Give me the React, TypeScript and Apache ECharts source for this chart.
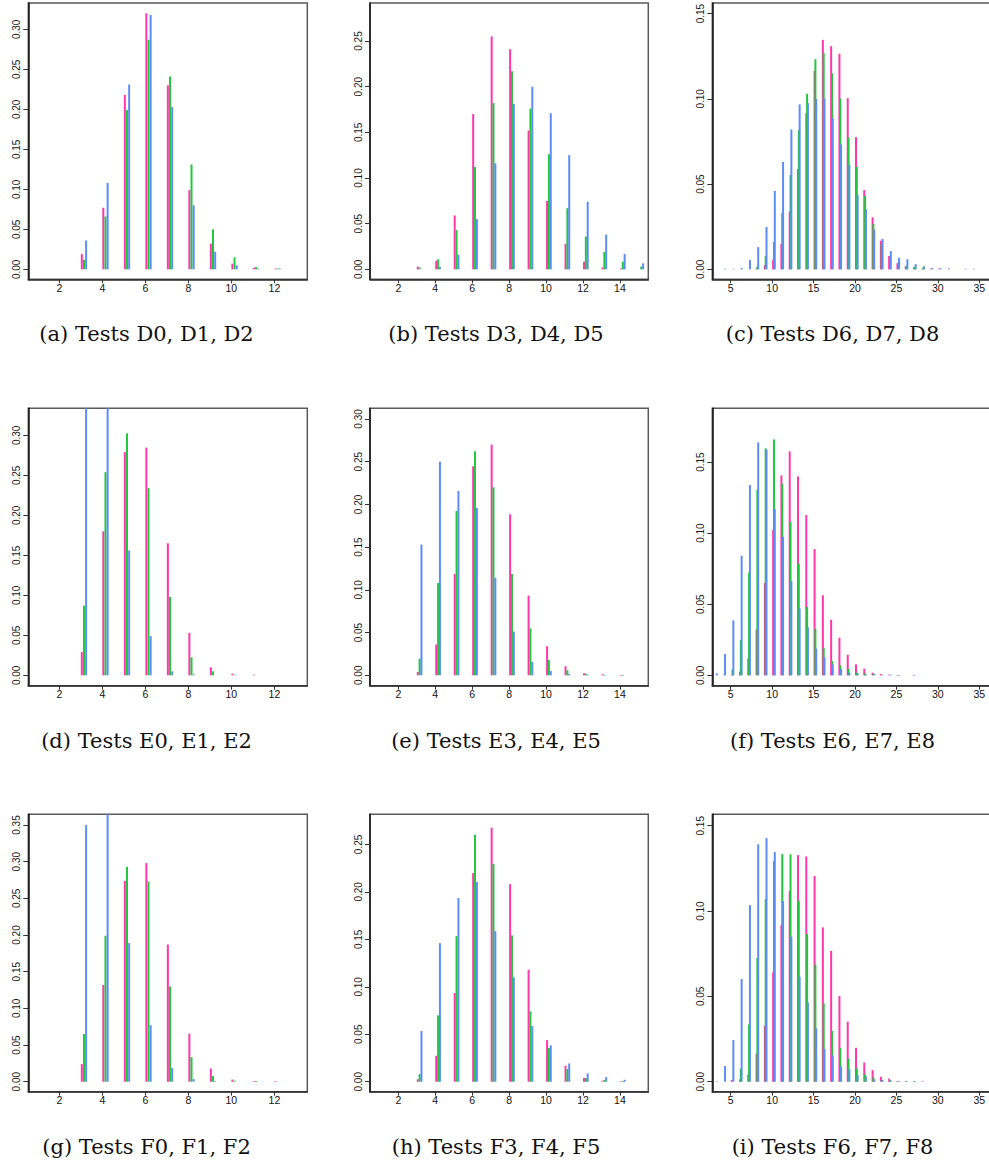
import React, { useEffect, useRef } from "react";
import * as echarts from "echarts";

// ---- Tests D0, D1, D2 ----
const xD0 = [3, 4, 5, 6, 7, 8, 9, 10, 11, 12];
const testD0 = [0.019, 0.077, 0.218, 0.32, 0.23, 0.099, 0.032, 0.007, 0.002, 0.001];
const testD1 = [0.012, 0.066, 0.199, 0.287, 0.241, 0.131, 0.05, 0.015, 0.003, 0.001];
const testD2 = [0.036, 0.108, 0.231, 0.318, 0.203, 0.08, 0.022, 0.005, 0.001, 0.001];

// ---- Tests D3, D4, D5 ----
const xD3 = [3, 4, 5, 6, 7, 8, 9, 10, 11, 12, 13, 14, 15];
const testD3 = [0.003, 0.0095, 0.059, 0.17, 0.255, 0.241, 0.152, 0.075, 0.028, 0.0084, 0.002, 0.001, 0];
const testD4 = [0.002, 0.011, 0.043, 0.112, 0.182, 0.217, 0.176, 0.126, 0.067, 0.036, 0.019, 0.0084, 0.003];
const testD5 = [0, 0.0026, 0.016, 0.055, 0.116, 0.181, 0.2, 0.171, 0.125, 0.074, 0.038, 0.017, 0.0066];

// ---- Tests D6, D7, D8 ----
const xD6 = [4, 5, 6, 7, 8, 9, 10, 11, 12, 13, 14, 15, 16, 17, 18, 19, 20, 21, 22, 23, 24, 25, 26, 27, 28, 29, 30, 31, 32, 33, 34];
const testD6 = [0, 0, 0, 0, 0.0006, 0.0025, 0.0055, 0.0148, 0.0338, 0.0588, 0.0916, 0.1164, 0.1346, 0.1309, 0.1264, 0.1004, 0.0775, 0.0465, 0.0305, 0.0168, 0.0078, 0.0035, 0.0018, 0.0012, 0.0004, 0.0004, 0.0004, 0, 0, 0, 0];
const testD7 = [0, 0, 0, 0, 0.0016, 0.0078, 0.016, 0.033, 0.0553, 0.0816, 0.103, 0.1232, 0.127, 0.115, 0.1002, 0.0773, 0.06, 0.043, 0.0266, 0.015, 0.0074, 0.004, 0.002, 0.0015, 0.0008, 0, 0, 0, 0, 0, 0];
const testD8 = [0.0003, 0.0003, 0.0008, 0.0055, 0.013, 0.0248, 0.046, 0.063, 0.082, 0.0967, 0.0975, 0.0998, 0.1002, 0.0887, 0.0732, 0.0613, 0.0436, 0.0352, 0.0232, 0.0178, 0.0107, 0.0068, 0.0059, 0.003, 0.0018, 0.0008, 0.0006, 0.0006, 0, 0.0003, 0.0003];

// ---- Tests E0, E1, E2 ----
const xE0 = [3, 4, 5, 6, 7, 8, 9, 10, 11];
const testE0 = [0.029, 0.18, 0.279, 0.2846, 0.165, 0.053, 0.01, 0.002, 0.0008];
const testE1 = [0.087, 0.254, 0.3025, 0.234, 0.098, 0.0225, 0.005, 0.0008, 0];
const testE2 = [0.375, 0.414, 0.156, 0.049, 0.005, 0.0012, 0, 0, 0];

// ---- Tests E3, E4, E5 ----
const xE3 = [3, 4, 5, 6, 7, 8, 9, 10, 11, 12, 13, 14];
const testE3 = [0.0039, 0.036, 0.1186, 0.2446, 0.27, 0.1885, 0.0933, 0.034, 0.0105, 0.0023, 0.0012, 0.0004];
const testE4 = [0.0195, 0.108, 0.1923, 0.2622, 0.22, 0.1186, 0.055, 0.018, 0.0059, 0.002, 0.0004, 0.0004];
const testE5 = [0.153, 0.25, 0.2158, 0.1959, 0.114, 0.0511, 0.0156, 0.005, 0.0016, 0.0004, 0, 0];

// ---- Tests E6, E7, E8 ----
const xE6 = [3, 4, 5, 6, 7, 8, 9, 10, 11, 12, 13, 14, 15, 16, 17, 18, 19, 20, 21, 22, 23, 24, 25, 26, 27];
const testE6 = [0, 0, 0.0003, 0.0026, 0.012, 0.0321, 0.0649, 0.1022, 0.1406, 0.1575, 0.1399, 0.1127, 0.0888, 0.0563, 0.0391, 0.0265, 0.0145, 0.0077, 0.0047, 0.0019, 0.0009, 0.0005, 0.0003, 0, 0.0003];
const testE7 = [0, 0.0005, 0.0042, 0.0248, 0.0722, 0.1305, 0.1596, 0.1659, 0.1348, 0.1078, 0.0785, 0.048, 0.0328, 0.0195, 0.0101, 0.007, 0.0045, 0.0019, 0.0012, 0.0009, 0, 0, 0, 0, 0];
const testE8 = [0.0014, 0.015, 0.0387, 0.0841, 0.1338, 0.1638, 0.1587, 0.117, 0.0975, 0.0663, 0.0471, 0.0338, 0.0188, 0.0127, 0.0077, 0.0045, 0.0019, 0.0014, 0.0005, 0.0009, 0.0003, 0.0005, 0.0002, 0, 0];

// ---- Tests F0, F1, F2 ----
const xF0 = [3, 4, 5, 6, 7, 8, 9, 10, 11, 12];
const testF0 = [0.024, 0.132, 0.274, 0.298, 0.187, 0.0655, 0.018, 0.003, 0.001, 0.001];
const testF1 = [0.065, 0.199, 0.293, 0.273, 0.13, 0.0336, 0.0077, 0.0014, 0.001, 0];
const testF2 = [0.35, 0.365, 0.189, 0.077, 0.0186, 0.0036, 0.001, 0, 0, 0];

// ---- Tests F3, F4, F5 ----
const xF3 = [3, 4, 5, 6, 7, 8, 9, 10, 11, 12, 13, 14];
const testF3 = [0.0025, 0.0274, 0.0934, 0.2198, 0.2676, 0.2082, 0.118, 0.0439, 0.0169, 0.0039, 0.0011, 0.0004];
const testF4 = [0.008, 0.0699, 0.1534, 0.2602, 0.2293, 0.1541, 0.0741, 0.0355, 0.0133, 0.0039, 0.0018, 0.0007];
const testF5 = [0.0534, 0.146, 0.1935, 0.2103, 0.1587, 0.1099, 0.0586, 0.0383, 0.0193, 0.0088, 0.0049, 0.0021];

// ---- Tests F6, F7, F8 ----
const xF6 = [3, 4, 5, 6, 7, 8, 9, 10, 11, 12, 13, 14, 15, 16, 17, 18, 19, 20, 21, 22, 23, 24, 25, 26, 27, 28];
const testF6 = [0, 0, 0.001, 0.0014, 0.0043, 0.0164, 0.0328, 0.0641, 0.0918, 0.1119, 0.1328, 0.132, 0.1205, 0.0904, 0.0766, 0.0502, 0.0352, 0.0199, 0.0113, 0.0068, 0.0029, 0.0018, 0.0004, 0.0003, 0.0003, 0.0003];
const testF7 = [0, 0, 0, 0.0076, 0.0336, 0.0725, 0.107, 0.1293, 0.1334, 0.1332, 0.1061, 0.0865, 0.0686, 0.0459, 0.0297, 0.0197, 0.0133, 0.0078, 0.0043, 0.0025, 0.001, 0.001, 0, 0.0003, 0.0003, 0];
const testF8 = [0.0003, 0.0092, 0.0244, 0.0602, 0.1035, 0.1391, 0.1428, 0.1346, 0.1059, 0.085, 0.0615, 0.0465, 0.0313, 0.0193, 0.0154, 0.009, 0.0072, 0.0039, 0.0031, 0.0014, 0.001, 0.0004, 0.0004, 0, 0, 0];

// ---- tick labels ----
const xTicksShort = [2, 4, 6, 8, 10, 12];
const xTicksMid = [2, 4, 6, 8, 10, 12, 14];
const xTicksLong = [5, 10, 15, 20, 25, 30, 35];
const yTicks030 = [0, 0.05, 0.1, 0.15, 0.2, 0.25, 0.3];
const yTicks025 = [0, 0.05, 0.1, 0.15, 0.2, 0.25];
const yTicks015 = [0, 0.05, 0.1, 0.15];
const yTicks035 = [0, 0.05, 0.1, 0.15, 0.2, 0.25, 0.3, 0.35];

const captions = [
  "(a) Tests D0, D1, D2", "(b) Tests D3, D4, D5", "(c) Tests D6, D7, D8",
  "(d) Tests E0, E1, E2", "(e) Tests E3, E4, E5", "(f) Tests E6, E7, E8",
  "(g) Tests F0, F1, F2", "(h) Tests F3, F4, F5", "(i) Tests F6, F7, F8",
];

const panelData = [
  { x: xD0, s: [testD0, testD1, testD2], xt: xTicksShort, yt: yTicks030 },
  { x: xD3, s: [testD3, testD4, testD5], xt: xTicksMid, yt: yTicks025 },
  { x: xD6, s: [testD6, testD7, testD8], xt: xTicksLong, yt: yTicks015 },
  { x: xE0, s: [testE0, testE1, testE2], xt: xTicksShort, yt: yTicks030 },
  { x: xE3, s: [testE3, testE4, testE5], xt: xTicksMid, yt: yTicks030 },
  { x: xE6, s: [testE6, testE7, testE8], xt: xTicksLong, yt: yTicks015 },
  { x: xF0, s: [testF0, testF1, testF2], xt: xTicksShort, yt: yTicks035 },
  { x: xF3, s: [testF3, testF4, testF5], xt: xTicksMid, yt: yTicks025 },
  { x: xF6, s: [testF6, testF7, testF8], xt: xTicksLong, yt: yTicks015 },
];

// axis extents (with the usual 4% padding around the data range)
const yRanges: [number, number][] = [
  [-0.0125, 0.3329], [-0.0109, 0.2916], [-0.00586, 0.1562],
  [-0.013, 0.3338], [-0.0122, 0.3125], [-0.0073, 0.1878],
  [-0.0136, 0.3646], [-0.0105, 0.2817], [-0.00586, 0.1567],
];
const xRanges: [number, number][] = [[0.558, 13.53], [0.468, 15.535], [2.78, 36.41]];

// page layout
const COLS = [
  { left: 28.3, width: 279, cap: 146.5 },
  { left: 370, width: 278.3, cap: 496 },
  { left: 712.3, width: 278.7, cap: 832.5 },
];
const ROWS = [
  { top: 3, height: 276.3, cap: 334 },
  { top: 408.3, height: 277.4, cap: 741 },
  { top: 814.3, height: 277.4, cap: 1147 },
];

const COLORS = ["#ff37a8", "#1fc83e", "#5c8cf8"];
const OFFSETS = [0, 0.1, 0.2];
const TICK_FONT = "'Liberation Sans', Arial, sans-serif";

function makeBar(color: string, offset: number) {
  return (params: any, api: any) => {
    const xv = api.value(0) as number;
    const yv = api.value(1) as number;
    if (!yv) return null;
    const top = api.coord([xv + offset, yv]);
    const base = api.coord([xv + offset, 0]);
    const cs = params.coordSys;
    const y0 = Math.max(top[1], cs.y);
    return {
      type: "rect",
      shape: { x: top[0], y: y0, width: 2, height: Math.max(base[1] - y0, 0.6) },
      style: { fill: color },
    };
  };
}

export default function App() {
  const ref = useRef<HTMLDivElement>(null);

  useEffect(() => {
    document.body.style.margin = "0";
    if (!ref.current) return;
    const chart = echarts.init(ref.current, undefined, { renderer: "svg" });

    const grid: any[] = [];
    const xAxis: any[] = [];
    const yAxis: any[] = [];
    const series: any[] = [];
    const graphic: any[] = [];

    panelData.forEach((p, i) => {
      const col = COLS[i % 3];
      const row = ROWS[Math.floor(i / 3)];
      grid.push({
        left: col.left,
        top: row.top,
        width: col.width,
        height: row.height,
        show: true,
        borderColor: "#5a5a5a",
        borderWidth: 1.5,
        backgroundColor: "transparent",
        outerBoundsMode: "none",
      });
      const [xmin, xmax] = xRanges[i % 3];
      xAxis.push({
        type: "value",
        gridIndex: i,
        min: xmin,
        max: xmax,
        axisLine: { show: true, onZero: false, lineStyle: { color: "#2a2a2a", width: 1.5 } },
        axisTick: { show: true, length: 4, customValues: p.xt, lineStyle: { color: "#333" } },
        axisLabel: {
          customValues: p.xt,
          margin: 3,
          fontSize: 10.5,
          fontFamily: TICK_FONT,
          color: "#111",
          formatter: (v: number) => String(v),
        },
        splitLine: { show: false },
      });
      const [ymin, ymax] = yRanges[i];
      yAxis.push({
        type: "value",
        gridIndex: i,
        min: ymin,
        max: ymax,
        axisLine: { show: true, onZero: false, lineStyle: { color: "#111", width: 1.5 } },
        axisTick: { show: true, length: 5, customValues: p.yt, lineStyle: { color: "#333" } },
        axisLabel: {
          customValues: p.yt,
          rotate: 90,
          margin: 7,
          fontSize: 10,
          fontFamily: "'Liberation Sans Narrow', " + TICK_FONT,
          color: "#1a1a1a",
          formatter: (v: number) => v.toFixed(2),
        },
        splitLine: { show: false },
      });
      p.s.forEach((vals, k) => {
        series.push({
          type: "custom",
          name: captions[i] + " #" + k,
          xAxisIndex: i,
          yAxisIndex: i,
          renderItem: makeBar(COLORS[k], OFFSETS[k]),
          encode: { x: 0, y: 1 },
          data: p.x.map((xv, j) => [xv, vals[j]]),
          silent: true,
        });
      });
      graphic.push({
        type: "text",
        x: col.cap,
        y: row.cap,
        style: {
          text: captions[i],
          fontSize: 21,
          fontFamily: "'DejaVu Serif', serif",
          fill: "#111",
          align: "center",
          verticalAlign: "middle",
          textAlign: "center",
          textVerticalAlign: "middle",
        },
      });
    });

    chart.setOption({
      animation: false,
      backgroundColor: "#ffffff",
      grid,
      xAxis,
      yAxis,
      series,
      graphic,
    });

    return () => chart.dispose();
  }, []);

  return <div ref={ref} style={{ width: 989, height: 1173 }} />;
}
